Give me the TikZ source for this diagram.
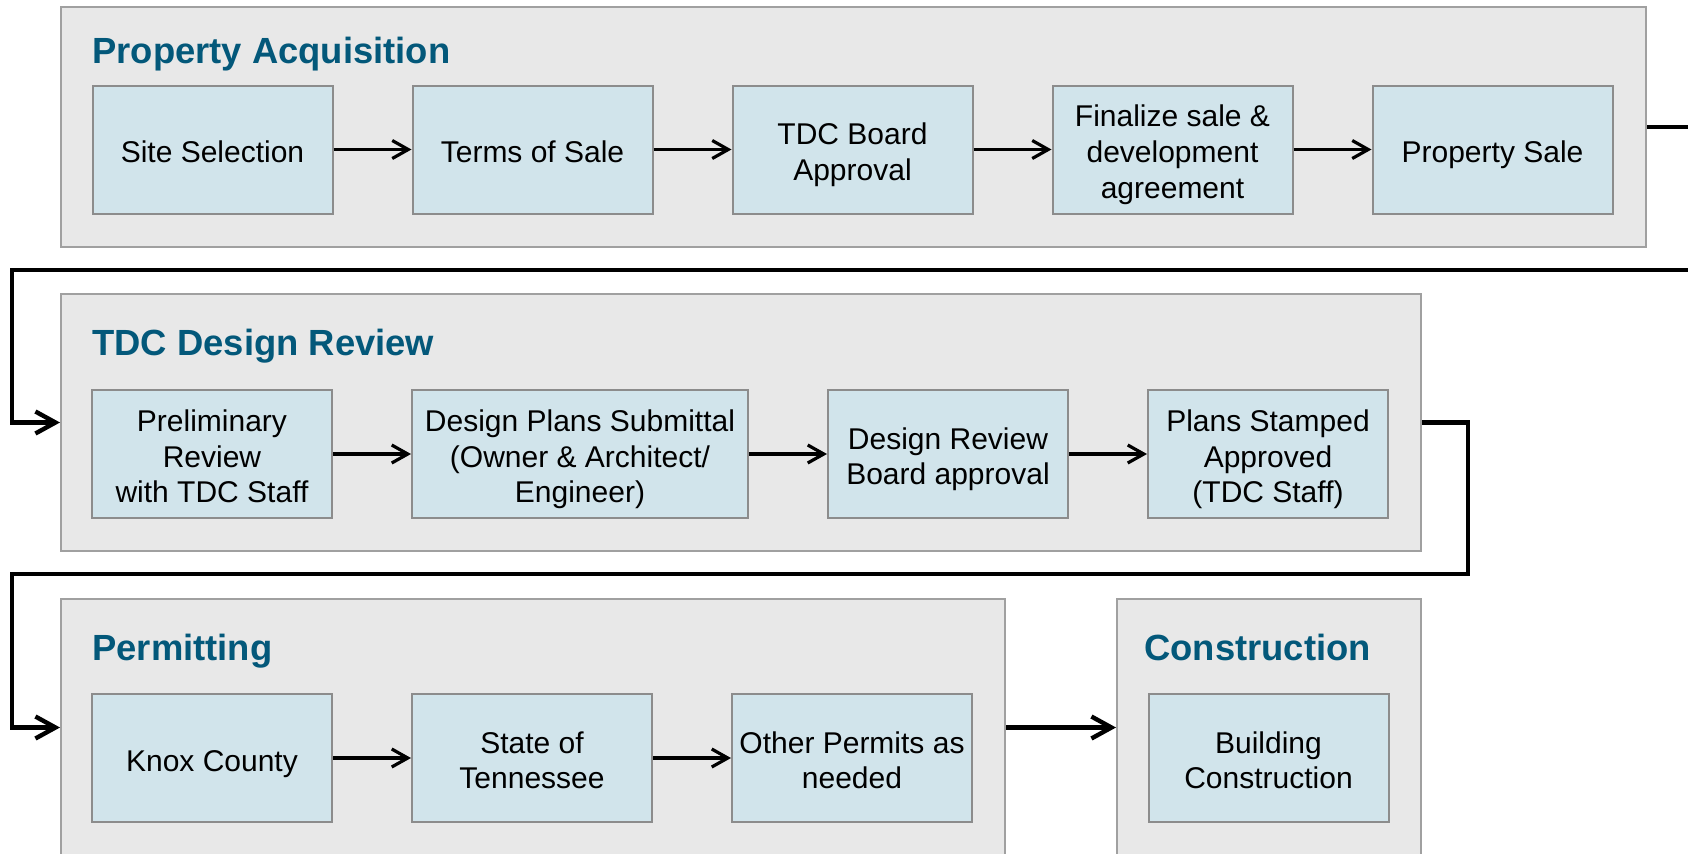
\documentclass[tikz,border=0pt]{standalone}
\usepackage{fontspec}
\setmainfont{Liberation Sans}
\usetikzlibrary{arrows.meta}
\definecolor{stagefill}{HTML}{E8E8E8}
\definecolor{stageedge}{HTML}{A0A0A0}
\definecolor{stepfill}{HTML}{D1E4EB}
\definecolor{stepedge}{HTML}{8C8C8C}
\definecolor{titleblue}{HTML}{03587A}
\def\up{\rule{0pt}{17pt}}
\def\dn{\rule[-4pt]{0pt}{4pt}}

\begin{document}
\begin{tikzpicture}[x=0.5pt, y=-0.5pt,
		stage/.style={draw=stageedge, fill=stagefill, line width=1pt, inner sep=0pt, anchor=north west, minimum height=128.5pt},
		stagetitle/.style={anchor=base west, inner sep=0pt, text=titleblue, font=\fontsize{18.2}{22}\selectfont\bfseries},
		stepbox/.style={draw=stepedge, fill=stepfill, line width=1pt, inner sep=0pt, minimum width=120pt, minimum height=64pt, align=center, font=\fontsize{15}{17.8}\selectfont},
		flow/.style={line width=1.6pt, -{Straight Barb[length=8pt, width=9pt]}},
		link/.style={line width=2.2pt, -{Straight Barb[length=10pt, width=11pt]}}]
			%%%%% START %%%%%
			
			\useasboundingbox (0,0) rectangle (1688,853);
			\clip (0,0) rectangle (1688,853);
			
			% stages
			\node[stage, minimum width=792.5pt, minimum height=120pt] (acq) at (60,6) {};
			\node[stage, minimum width=680pt] (review) at (60,293) {};
			\node[stage, minimum width=472pt] (permit) at (60,598) {};
			\node[stage, minimum width=152pt] (build) at (1116,598) {};
			
			\node[stagetitle] (acqtitle) at (92,63) {Property Acquisition};
			\node[stagetitle] (reviewtitle) at (92,355) {TDC Design Review};
			\node[stagetitle] (permittitle) at (92,660) {Permitting};
			\node[stagetitle] (buildtitle) at (1144,660) {Construction};
			
			% property acquisition
			\node[stepbox] (site) at (212.5,149.5) {\up Site Selection\dn};
			\node[stepbox] (terms) at (532.5,149.5) {\up Terms of Sale\dn};
			\node[stepbox] (board) at (852.5,149.5) {\up TDC Board\\Approval\dn};
			\node[stepbox] (finalize) at (1172.5,149.5) {\up Finalize sale \&\\development\\agreement\dn};
			\node[stepbox] (sale) at (1492.5,149.5) {\up Property Sale\dn};
			
			% design review
			\node[stepbox] (prelim) at (212,454) {\up Preliminary\\Review\\with TDC Staff\dn};
			\node[stepbox, minimum width=168pt] (plans) at (580,454) {\up Design Plans Submittal\\(Owner \& Architect/\\Engineer)\dn};
			\node[stepbox] (drb) at (948,454) {\up Design Review\\Board approval\dn};
			\node[stepbox] (stamped) at (1268,454) {\up Plans Stamped\\Approved\\(TDC Staff)\dn};
			
			% permitting and construction
			\node[stepbox] (knox) at (212,758) {\up Knox County\dn};
			\node[stepbox] (state) at (532,758) {\up State of\\Tennessee\dn};
			\node[stepbox] (other) at (852,758) {\up Other Permits as\\needed\dn};
			\node[stepbox] (construct) at (1268.5,758) {\up Building\\Construction\dn};
			
			\draw[flow] (site) -- (terms);
			\draw[flow] (terms) -- (board);
			\draw[flow] (board) -- (finalize);
			\draw[flow] (finalize) -- (sale);
			
			\draw[flow] (prelim) -- (plans);
			\draw[flow] (plans) -- (drb);
			\draw[flow] (drb) -- (stamped);
			
			\draw[flow] (knox) -- (state);
			\draw[flow] (state) -- (other);
			
			% links between stages
			\coordinate (exitR) at (1720,270);
			\coordinate (backL) at (12,270);
			\draw[link] (acq.east) -| (exitR) -- (backL) |- (review.west);
			
			\coordinate (bendR) at (1468,574);
			\coordinate (bendL) at (12,574);
			\draw[link] (review.east) -| (bendR) -- (bendL) |- (permit.west);
			
			\draw[link] (permit) -- (build);
			
			%%%%% END %%%%%
		\end{tikzpicture}
\end{document}
